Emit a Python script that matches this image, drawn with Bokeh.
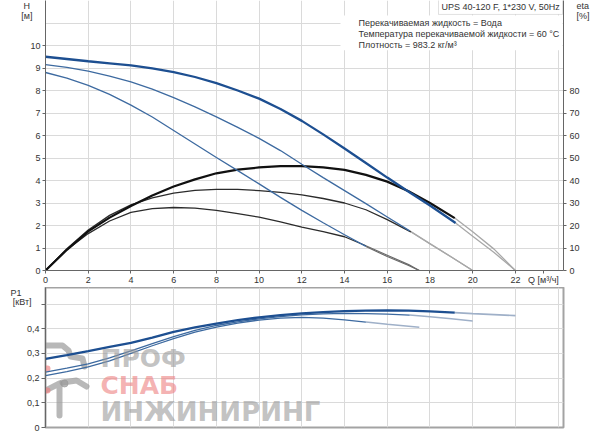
from bokeh.plotting import figure
from bokeh.models import (Range1d, LinearAxis, FixedTicker, CustomJSTickFormatter,
                          Label, BoxAnnotation)
from bokeh.layouts import column
from bokeh.embed import file_html
from bokeh.resources import INLINE

# ---------------- data ----------------
# Pump curves H [m] vs Q [m3/h]
q_h1 = [0, 1, 2, 3, 4, 5, 6, 7, 8, 9, 10, 11, 12, 13, 14, 15, 16, 17, 18, 19.2]
h1 = [9.50, 9.40, 9.30, 9.21, 9.12, 8.98, 8.82, 8.60, 8.33, 8.00, 7.64, 7.18, 6.65,
      6.05, 5.42, 4.78, 4.13, 3.50, 2.89, 2.11]
q_h1x = [19.2, 20, 21, 22]
h1x = [2.11, 1.52, 0.80, 0.0]

q_h2 = [0, 1, 2, 3, 4, 5, 6, 7, 8, 9, 10, 11, 12, 13, 14, 15, 16, 17.05]
h2 = [9.15, 9.03, 8.86, 8.64, 8.38, 8.06, 7.68, 7.27, 6.83, 6.36, 5.87, 5.33, 4.72,
      4.13, 3.55, 2.97, 2.38, 1.76]
q_h2x = [17.05, 18, 19, 20]
h2x = [1.76, 1.20, 0.60, 0.0]

q_h3 = [0, 1, 2, 3, 4, 5, 6, 7, 8, 9, 10, 11, 12, 13, 14, 15]
h3 = [8.80, 8.55, 8.23, 7.83, 7.35, 6.82, 6.22, 5.62, 5.02, 4.44, 3.85, 3.25, 2.67,
      2.12, 1.59, 1.07]
q_h3x = [15, 16, 17, 17.5]
h3x = [1.07, 0.62, 0.22, 0.0]

# Efficiency eta [%]
q_e1 = [0, 1, 2, 3, 4, 5, 6, 7, 8, 9, 10, 11, 12, 13, 14, 15, 16, 17, 18, 19.16]
e1 = [0, 9.2, 17.4, 23.5, 28.7, 33.3, 37.3, 40.5, 43.2, 44.8, 45.8, 46.4, 46.4, 45.8,
      44.7, 42.5, 39.5, 35.2, 30.0, 23.3]
q_e1x = [19.16, 20, 21, 22]
e1x = [23.3, 17.2, 9.5, 0.0]

q_e2 = [0, 1, 2, 3, 4, 5, 6, 7, 8, 9, 10, 11, 12, 13, 14, 15, 16, 17.1]
e2 = [0, 9.7, 18.0, 24.5, 29.2, 32.3, 34.4, 35.6, 36.1, 36.1, 35.5, 34.7, 33.6, 32.0,
      30.0, 27.0, 22.6, 17.2]
q_e2x = [17.1, 18, 19, 20]
e2x = [17.2, 11.8, 6.0, 0.0]

q_e3 = [0, 1, 2, 3, 4, 5, 6, 7, 8, 9, 10, 11, 12, 13, 14, 15]
e3 = [0, 9.2, 16.4, 22.0, 25.8, 27.5, 28.0, 27.7, 26.7, 25.3, 23.7, 21.6, 19.3, 17.3,
      15.0, 11.0]
q_e3x = [15, 16, 17, 17.5]
e3x = [11.0, 6.8, 2.6, 0.0]

# Power P1 [kW]
q_p1 = [0, 1, 2, 3, 4, 5, 6, 7, 8, 9, 10, 11, 12, 13, 14, 15, 16, 17, 18, 19.16]
p1 = [0.278, 0.293, 0.309, 0.326, 0.343, 0.364, 0.387, 0.405, 0.421, 0.435, 0.446,
      0.455, 0.462, 0.467, 0.471, 0.473, 0.474, 0.473, 0.470, 0.465]
q_p1x = [19.16, 20, 21, 22]
p1x = [0.465, 0.461, 0.457, 0.453]

q_p2 = [0, 1, 2, 3, 4, 5, 6, 7, 8, 9, 10, 11, 12, 13, 14, 15, 16, 17.05]
p2v = [0.224, 0.240, 0.258, 0.282, 0.310, 0.340, 0.368, 0.393, 0.413, 0.428, 0.440,
       0.449, 0.456, 0.460, 0.462, 0.461, 0.459, 0.455]
q_p2x = [17.05, 18, 19, 20]
p2x = [0.455, 0.448, 0.440, 0.431]

q_p3 = [0, 1, 2, 3, 4, 5, 6, 7, 8, 9, 10, 11, 12, 13, 14, 15]
p3v = [0.210, 0.226, 0.245, 0.270, 0.300, 0.331, 0.360, 0.386, 0.406, 0.423, 0.435,
       0.443, 0.446, 0.443, 0.436, 0.427]
q_p3x = [15, 16, 17, 17.5]
p3x = [0.427, 0.418, 0.410, 0.406]

q_ticks = [0, 2, 4, 6, 8, 10, 12, 14, 16, 18, 20, 22]
q_grid = [0, 2, 4, 6, 8, 10, 12, 14, 16, 18, 20, 22, 24]
h_ticks = [0, 1, 2, 3, 4, 5, 6, 7, 8, 9, 10]
h_grid = [0, 1, 2, 3, 4, 5, 6, 7, 8, 9, 10, 11]
eta_ticks = [0, 10, 20, 30, 40, 50, 60, 70, 80]
p_ticks = [0, 0.1, 0.2, 0.3, 0.4, 0.5]

x_title = "Q [м³/ч]"
h_title = ["H", "[м]"]
eta_title = ["eta", "[%]"]
p_title = ["P1", "[кВт]"]
title_text = "UPS 40-120 F, 1*230 V, 50Hz"
info_lines = ["Перекачиваемая жидкость = Вода",
              "Температура перекачиваемой жидкости = 60 °C",
              "Плотность = 983.2 кг/м³"]
wm_words = ["ПРОФ", "СНАБ", "ИНЖИНИРИНГ"]

# ---------------- layout constants ----------------
FONT = "Liberation Sans"
W = 600
LEFT, RIGHT = 45, 37
FRAME_W = W - LEFT - RIGHT
Q_END = FRAME_W / 21.36
TOP_FRAME_H = 271
H_END = 12.0
ETA_END = 120.0
BOT_TOP = 287
BOT_FRAME_H = 140
P_END = BOT_FRAME_H / 247.0

BLUE_D = "#1d4f91"
BLUE = "#3d6aa0"
GRAY_X = "#a8a8a8"
GRID = "#dadada"
AXC = "#666666"
TXT = "#333333"
NB = "\u00a0"


def top_xy(px, py):
    return ((px - LEFT) / FRAME_W * Q_END, (TOP_FRAME_H - py) / TOP_FRAME_H * H_END)


def top_y(py, end):
    return (TOP_FRAME_H - py) / TOP_FRAME_H * end


def bot_xy(px, py):
    return ((px - LEFT) / FRAME_W * Q_END,
            (BOT_TOP + BOT_FRAME_H - py) / BOT_FRAME_H * P_END)


def style_axis(ax, tick_out=3, standoff=2):
    ax.major_label_text_font = FONT
    ax.major_label_text_font_size = "9px"
    ax.major_label_text_color = TXT
    ax.axis_line_color = AXC
    ax.major_tick_line_color = AXC
    ax.major_tick_out = tick_out
    ax.major_tick_in = 0
    ax.minor_tick_line_color = None
    ax.major_label_standoff = standoff


def title_axis(ticks, texts, standoff, y_range_name="default"):
    ax = LinearAxis(ticker=FixedTicker(ticks=ticks), y_range_name=y_range_name,
                    major_label_overrides={t: s for t, s in zip(ticks, texts)})
    style_axis(ax, 0, standoff)
    ax.axis_line_color = None
    ax.major_tick_line_color = None
    return ax


# ---------------- top chart (H / eta) ----------------
p = figure(width=W, height=TOP_FRAME_H + 16, x_range=Range1d(0, Q_END),
           y_range=Range1d(0, H_END), output_backend="svg", toolbar_location=None,
           min_border_left=LEFT, min_border_right=RIGHT, min_border_top=0,
           min_border_bottom=16)
p.outline_line_color = None
p.background_fill_color = "white"
p.border_fill_color = "white"
p.extra_y_ranges = {"eta": Range1d(0, ETA_END)}
eta_axis = LinearAxis(y_range_name="eta", ticker=FixedTicker(ticks=eta_ticks))
p.add_layout(eta_axis, "right")

q_lab = round((543 - LEFT) / FRAME_W * Q_END, 2)
p.xaxis.ticker = FixedTicker(ticks=q_ticks + [q_lab])
p.xaxis.formatter = CustomJSTickFormatter(
    code="return Number.isInteger(tick) ? tick.toString() : '';")
p.xaxis.major_label_overrides = {q_lab: x_title}
p.yaxis[0].ticker = FixedTicker(ticks=h_ticks)
style_axis(p.xaxis[0], 3, 1)
style_axis(p.yaxis[0], 3, 2)
style_axis(eta_axis, 3, 3)
p.xgrid.ticker = FixedTicker(ticks=q_grid)
p.ygrid.ticker = FixedTicker(ticks=h_grid)
p.xgrid.grid_line_color = GRID
p.ygrid.grid_line_color = GRID

# axis titles as extra label-only axes
hy = [round(top_y(5, H_END), 3), round(top_y(16, H_END), 3)]
p.add_layout(title_axis(hy, [h_title[0] + NB, h_title[1]], -5), "left")
ey = [round(top_y(5, ETA_END), 2), round(top_y(16, ETA_END), 2)]
p.add_layout(title_axis(ey, eta_title, -6, "eta"), "right")

# continuation (outside operating range)
p.line(q_h1x, h1x, line_color=GRAY_X, line_width=1.3)
p.line(q_e1x, e1x, line_color=GRAY_X, line_width=1.3, y_range_name="eta")
p.line(q_h2x, h2x, line_color=GRAY_X, line_width=1.3)
p.line(q_e2x, e2x, line_color=GRAY_X, line_width=1.3, y_range_name="eta")
p.line(q_h3x, h3x, line_color="#6a6a6a", line_width=1.2)
p.line(q_e3x, e3x, line_color="#6a6a6a", line_width=1.2, y_range_name="eta")
# efficiency
p.line(q_e3, e3, line_color="#2b2b2b", line_width=1.3, y_range_name="eta")
p.line(q_e2, e2, line_color="#2b2b2b", line_width=1.3, y_range_name="eta")
p.line(q_e1, e1, line_color="#111111", line_width=2.2, y_range_name="eta")
# head
p.line(q_h3, h3, line_color=BLUE, line_width=1.3)
p.line(q_h2, h2, line_color=BLUE, line_width=1.3)
p.line(q_h1, h1, line_color=BLUE_D, line_width=2.3)

# info block
bx0, by0 = top_xy(340, 15)
bx1, by1 = top_xy(562, 50)
p.add_layout(BoxAnnotation(left=bx0, right=bx1, top=by0, bottom=by1,
                           fill_color="white", fill_alpha=1, line_color=None))
ux0, uy0 = top_xy(438, -2)
ux1, uy1 = top_xy(562, 14)
p.add_layout(BoxAnnotation(left=ux0, right=ux1, top=uy0, bottom=uy1,
                           fill_color="white", fill_alpha=1, line_color="#9a9a9a",
                           line_width=1))


def add_label(fig, xy, text, size="9px", align="left", color=TXT, baseline="middle",
              font=FONT, style="normal", alpha=1.0):
    fig.add_layout(Label(x=xy[0], y=xy[1], text=text, text_font=font,
                         text_font_size=size, text_color=color, text_align=align,
                         text_baseline=baseline, text_font_style=style,
                         text_alpha=alpha))


add_label(p, top_xy(441, 7), title_text)
for i, line in enumerate(info_lines):
    add_label(p, top_xy(358, 23 + i * 10.6), line)

# ---------------- bottom chart (P1) ----------------
p2 = figure(width=W, height=BOT_FRAME_H + 7, x_range=Range1d(0, Q_END),
            y_range=Range1d(0, P_END), output_backend="svg", toolbar_location=None,
            min_border_left=LEFT, min_border_right=RIGHT, min_border_top=0,
            min_border_bottom=7)
p2.outline_line_color = "#a3a3a3"
p2.outline_line_width = 2
p2.background_fill_color = "white"
p2.border_fill_color = "white"
p2.xaxis.visible = False
p2.yaxis.ticker = FixedTicker(ticks=p_ticks)
p2.yaxis.formatter = CustomJSTickFormatter(
    code="if (tick > 0.45) return ''; if (tick < 0.05) return '0';"
         " return tick.toFixed(1).replace('.', ',');")
style_axis(p2.yaxis[0], 4, 2)
p2.xgrid.ticker = FixedTicker(ticks=q_grid)
p2.ygrid.ticker = FixedTicker(ticks=p_ticks)
p2.xgrid.grid_line_color = GRID
p2.ygrid.grid_line_color = GRID

py_t = [round(bot_xy(0, 292)[1], 4), round(bot_xy(0, 302)[1], 4)]
p2.add_layout(title_axis(py_t, [p_title[0] + NB * 4, p_title[1]], -8), "left")

# watermark (semi-transparent, behind the curves)
WM_G = "#9a9a9a"
WM_R = "#ee8080"
WM_FONT = "DejaVu Sans"


def logo_path(points):
    xs, ys = zip(*[bot_xy(a, b) for a, b in points])
    return list(xs), list(ys)


logo_gray = [logo_path([(38, 369), (38, 345), (62, 345), (68, 350), (70, 356),
                        (82, 358), (84, 366)]),
             logo_path([(39, 415), (39, 393), (59, 383), (59, 415)]),
             logo_path([(62, 382), (76, 380), (86, 386)])]
logo_red = [logo_path([(47, 368), (18, 368), (18, 390), (47, 390)])]
p2.multi_line([a for a, _ in logo_gray], [b for _, b in logo_gray], line_color=WM_G,
              line_width=6, line_alpha=0.7, line_join="round", line_cap="round")
p2.multi_line([a for a, _ in logo_red], [b for _, b in logo_red], line_color=WM_R,
              line_width=6, line_alpha=0.65, line_join="round", line_cap="round")
p2.scatter([bot_xy(64, 383)[0]], [bot_xy(64, 383)[1]], size=7, color=WM_G, alpha=0.7)

PX = "#9fb0c8"
p2.line(q_p1x, p1x, line_color=PX, line_width=1.6)
p2.line(q_p2x, p2x, line_color=PX, line_width=1.5)
p2.line(q_p3x, p3x, line_color=PX, line_width=1.5)
p2.line(q_p3, p3v, line_color=BLUE, line_width=1.3)
p2.line(q_p2, p2v, line_color=BLUE, line_width=1.3)
p2.line(q_p1, p1, line_color=BLUE_D, line_width=2.3)

add_label(p2, bot_xy(100, 358), wm_words[0], size="25px", color=WM_G,
          baseline="alphabetic", font=WM_FONT, style="bold", alpha=0.6)
add_label(p2, bot_xy(100, 385), wm_words[1], size="25px", color=WM_R,
          baseline="alphabetic", font=WM_FONT, style="bold", alpha=0.6)
add_label(p2, bot_xy(100, 411), wm_words[2], size="26px", color=WM_G,
          baseline="alphabetic", font=WM_FONT, style="bold", alpha=0.6)

layout = column(p, p2, spacing=0,
                styles={"position": "absolute", "top": "0px", "left": "0px"})

with open("out.html", "w") as f:
    f.write(file_html(layout, INLINE))
